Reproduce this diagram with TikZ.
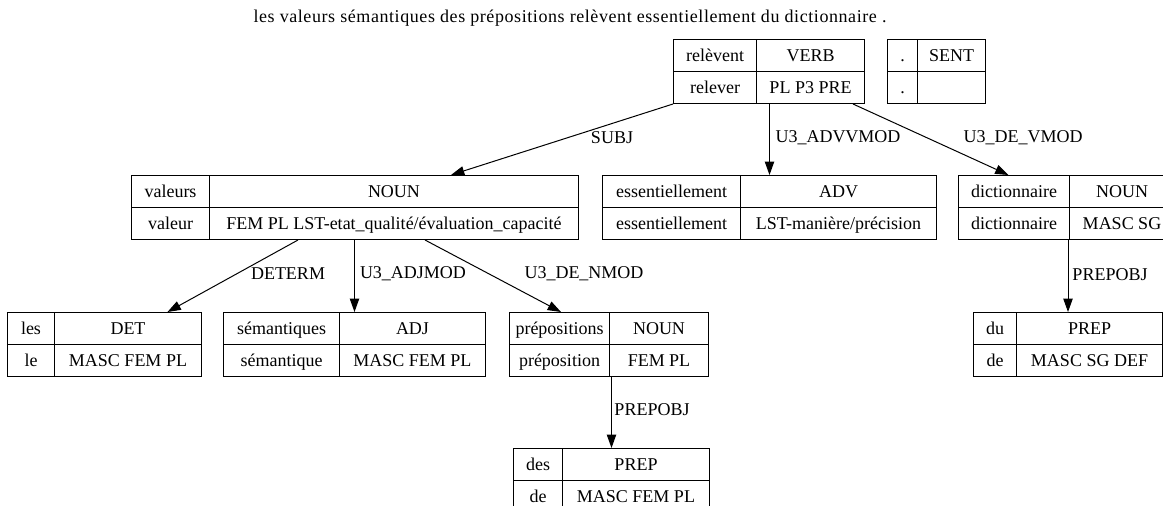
\documentclass[tikz,border=0pt]{standalone}
\usepackage{fontspec}
\setmainfont{Liberation Serif}
\usepackage{array}
\usetikzlibrary{arrows.meta,calc}

% one row of a record, 31px high
\newcommand{\rs}{\rule[-7.25pt]{0pt}{23.25pt}}
% px to pt
\newcommand{\cellw}[1]{\dimexpr #1pt*3/4\relax}
% 2x2 record: widths of the two columns (px), then the four cells
\newcommand{\recbox}[6]{%
  {\setlength{\tabcolsep}{0pt}\setlength{\arrayrulewidth}{0.75pt}%
  \begin{tabular}{|wc{\cellw{#1}}|wc{\cellw{#2}}|}\hline
    \rs #3 & #4\\\hline
    \rs #5 & #6\\\hline
  \end{tabular}}}

\begin{document}
\begin{tikzpicture}[x=0.75pt,y=-0.75pt,
    every node/.style={font=\fontsize{13.5}{16}\selectfont},
    rec/.style={anchor=north west,inner sep=0pt,outer sep=0pt},
    dep/.style={-{Triangle[length=10pt,width=7pt]},line width=0.75pt},
    lbl/.style={inner sep=0pt}]
  \useasboundingbox (0,0) rectangle (1163,506);
  \clip (0,0) rectangle (1163,506);

  % sentence
  \node (title) at (570,18) {\addfontfeature{LetterSpace=3.2}les valeurs sémantiques des prépositions relèvent essentiellement du dictionnaire .};

  % words
  \node[rec] (relever) at (673,39) {\recbox{82}{107}{relèvent}{VERB}{relever}{PL P3 PRE}};
  \node[rec] (sent) at (887,39) {\recbox{29}{67}{.}{SENT}{.}{}};
  \node[rec] (valeur) at (131,175) {\recbox{77}{368}{valeurs}{NOUN}{valeur}{FEM PL LST-etat\_qualité/évaluation\_capacité}};
  \node[rec] (essentiel) at (602,175) {\recbox{137}{195}{essentiellement}{ADV}{essentiellement}{LST-manière/précision}};
  \node[rec] (dict) at (958,175) {\recbox{110}{104}{dictionnaire}{NOUN}{dictionnaire}{MASC SG}};
  \node[rec] (les) at (7,312) {\recbox{46}{146}{les}{DET}{le}{MASC FEM PL}};
  \node[rec] (seman) at (223,312) {\recbox{115}{145}{sémantiques}{ADJ}{sémantique}{MASC FEM PL}};
  \node[rec] (prepo) at (509,312) {\recbox{99}{98}{prépositions}{NOUN}{préposition}{FEM PL}};
  \node[rec] (du) at (973,312) {\recbox{42}{145}{du}{PREP}{de}{MASC SG DEF}};
  \node[rec] (des) at (513,448) {\recbox{48}{146}{des}{PREP}{de}{MASC FEM PL}};

  % dependencies
  \draw[dep] (relever.south west) -- ($(valeur.north)+(96,0)$);
  \draw[dep] (essentiel.north |- relever.south) -- (essentiel.north);
  \draw[dep] ($(relever.south east)+(-12,0)$) -- ($(dict.north)+(-58,0)$);
  \draw[dep] ($(valeur.south)+(-57,0)$) -- ($(les.north)+(63,0)$);
  \draw[dep] (seman.north |- valeur.south) -- (seman.north);
  \draw[dep] ($(valeur.south)+(70,0)$) -- ($(prepo.north)+(-48,0)$);
  \draw[dep] (des.north |- prepo.south) -- (des.north);
  \draw[dep] (du.north |- dict.south) -- (du.north);

  % relation names
  \node[lbl] (lsubj) at (612,138) {SUBJ};
  \node[lbl] (ladv) at (838,138) {U3\_ADVVMOD};
  \node[lbl] (lvmod) at (1023,138) {U3\_DE\_VMOD};
  \node[lbl] (ldet) at (288,274) {DETERM};
  \node[lbl] (ladj) at (413,274) {U3\_ADJMOD};
  \node[lbl] (lnmod) at (584,274) {U3\_DE\_NMOD};
  \node[lbl] (lobja) at (652,410) {PREPOBJ};
  \node[lbl] (lobjb) at (1110,275) {PREPOBJ};
\end{tikzpicture}
\end{document}
